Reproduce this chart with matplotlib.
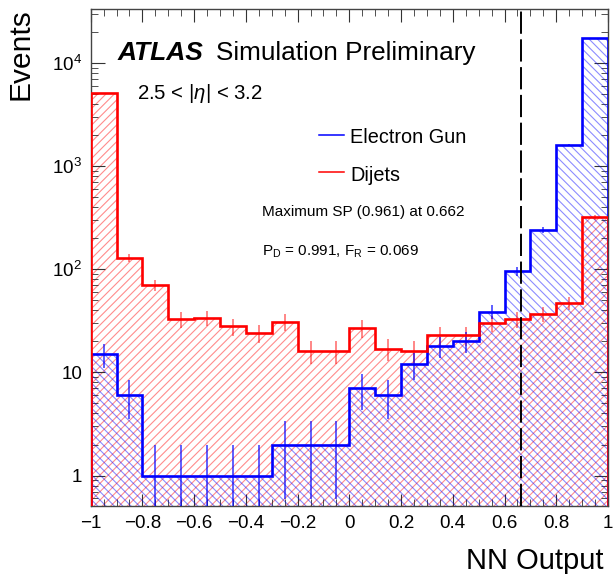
import numpy as np
import matplotlib
matplotlib.use("Agg")
import matplotlib.pyplot as plt
from matplotlib.ticker import FixedLocator, MultipleLocator, LogLocator, NullFormatter, FuncFormatter
from matplotlib.lines import Line2D

plt.rcParams['font.family'] = ['Liberation Sans', 'DejaVu Sans']
plt.rcParams['mathtext.fontset'] = 'custom'
plt.rcParams['mathtext.rm'] = 'Liberation Sans'
plt.rcParams['mathtext.it'] = 'Liberation Sans:italic'
plt.rcParams['mathtext.bf'] = 'Liberation Sans:bold'
plt.rcParams['lines.scale_dashes'] = False
plt.rcParams['hatch.linewidth'] = 0.8

# NN output bins (-1 .. 1, width 0.1)
bin_edges = np.linspace(-1.0, 1.0, 21)
electron_gun = [15, 6, 1, 1, 1, 1, 1, 2, 2, 2,
                7, 6, 12, 18, 20, 39, 96, 240, 1595, 17600]
dijets = [5100, 130, 70, 33, 34, 28, 24, 31, 16, 16,
          27, 17, 16, 23, 23, 30, 33, 37, 47, 321]
sp_cut = 0.662

BLUE = '#0000ff'
RED = '#ff0000'

W, H = 614, 574
fig = plt.figure(figsize=(W / 100, H / 100), dpi=100)
ax = fig.add_axes([90.7 / W, 1 - 505.7 / H, (608 - 90.7) / W, (505.7 - 9.3) / H])
ax.set_yscale('log')
ax.set_xlim(-1, 1)
ax.set_ylim(0.51, 33300)

centers = 0.5 * (bin_edges[1:] + bin_edges[:-1])
low = 1e-3


def draw_hist(vals, color, hatch, hatch_alpha, z):
    vals = np.asarray(vals, dtype=float)
    ax.fill_between(bin_edges, np.append(vals, vals[-1]), low, step='post',
                    facecolor='none', edgecolor=matplotlib.colors.to_rgba(color, hatch_alpha),
                    hatch=hatch, linewidth=0, zorder=z)
    return vals


r = draw_hist(dijets, RED, '////', 0.45, 1)
b = draw_hist(electron_gun, BLUE, '\\\\\\\\', 0.45, 2)

ax.stairs(b, bin_edges, baseline=low, color=BLUE, lw=1.9, zorder=4)
ax.stairs(r, bin_edges, baseline=low, color=RED, lw=1.9, zorder=5)

# sqrt(N) error bars
for vals, color, a in [(r, RED, 0.6), (b, BLUE, 0.8)]:
    err = np.sqrt(vals)
    lo = np.clip(vals - err, low, None)
    ax.vlines(centers, lo, vals + err, color=color, alpha=a, lw=1.1, zorder=3)

ax.axvline(sp_cut, color='black', lw=1.4, dashes=(16, 4), zorder=6)

# ticks
ax.xaxis.set_major_locator(MultipleLocator(0.2))
ax.xaxis.set_minor_locator(MultipleLocator(0.05))


def xfmt(v, pos):
    if abs(v) < 1e-9:
        return '0'
    s = ('%.1f' % v).rstrip('0').rstrip('.')
    return s.replace('-', '\u2212')


ax.xaxis.set_major_formatter(FuncFormatter(xfmt))
ax.yaxis.set_major_locator(FixedLocator([1, 10, 100, 1000, 10000]))
ax.yaxis.set_minor_locator(LogLocator(base=10, subs=np.arange(2, 10)))
ax.yaxis.set_minor_formatter(NullFormatter())
ylabels = {1: '1', 10: '10', 100: r'$10^{2}$', 1000: r'$10^{3}$', 10000: r'$10^{4}$'}
ax.yaxis.set_major_formatter(FuncFormatter(lambda v, p: ylabels.get(int(round(v)), '')))

ax.tick_params(which='both', direction='in', top=True, right=True,
               labelsize=13.6, color='#333333')
ax.tick_params(axis='x', which='major', length=9, pad=7)
ax.tick_params(axis='x', which='minor', length=5)
ax.tick_params(axis='y', which='major', length=10, pad=6)
ax.tick_params(axis='y', which='minor', length=5)
for sp in ax.spines.values():
    sp.set_linewidth(1.0)
    sp.set_color('#444444')

# labels and annotations
fig.text(20.7 / W, 1 - 8 / H, 'Events', rotation=90, ha='center', va='top', fontsize=21.5)
fig.text(604 / W, 1 - 569 / H, 'NN Output', ha='right', va='baseline', fontsize=21)

fig.text(118 / W, 1 - 60 / H, 'ATLAS', fontsize=19, fontweight='bold', style='italic',
         va='baseline', ha='left')
fig.text(216 / W, 1 - 60 / H, 'Simulation Preliminary', fontsize=18.8, va='baseline', ha='left')
fig.text(137 / W, 1 - 99.3 / H, r'2.5 < |$\eta$| < 3.2', fontsize=14.7, va='baseline', ha='left')

for yl, yt, color, label in [(135, 143.3, BLUE, 'Electron Gun'), (172.3, 180.7, RED, 'Dijets')]:
    fig.add_artist(Line2D([319 / W, 344 / W], [1 - yl / H, 1 - yl / H], color=color, lw=1.1))
    fig.text(350 / W, 1 - yt / H, label, fontsize=14.3, va='baseline', ha='left')

fig.text(261.7 / W, 1 - 216 / H, 'Maximum SP (0.961) at 0.662', fontsize=11, va='baseline')
fig.text(261.7 / W, 1 - 256 / H, r'P$_{\mathrm{D}}$ = 0.991, F$_{\mathrm{R}}$ = 0.069',
         fontsize=11, va='baseline')

fig.savefig('out.png', dpi=100)
